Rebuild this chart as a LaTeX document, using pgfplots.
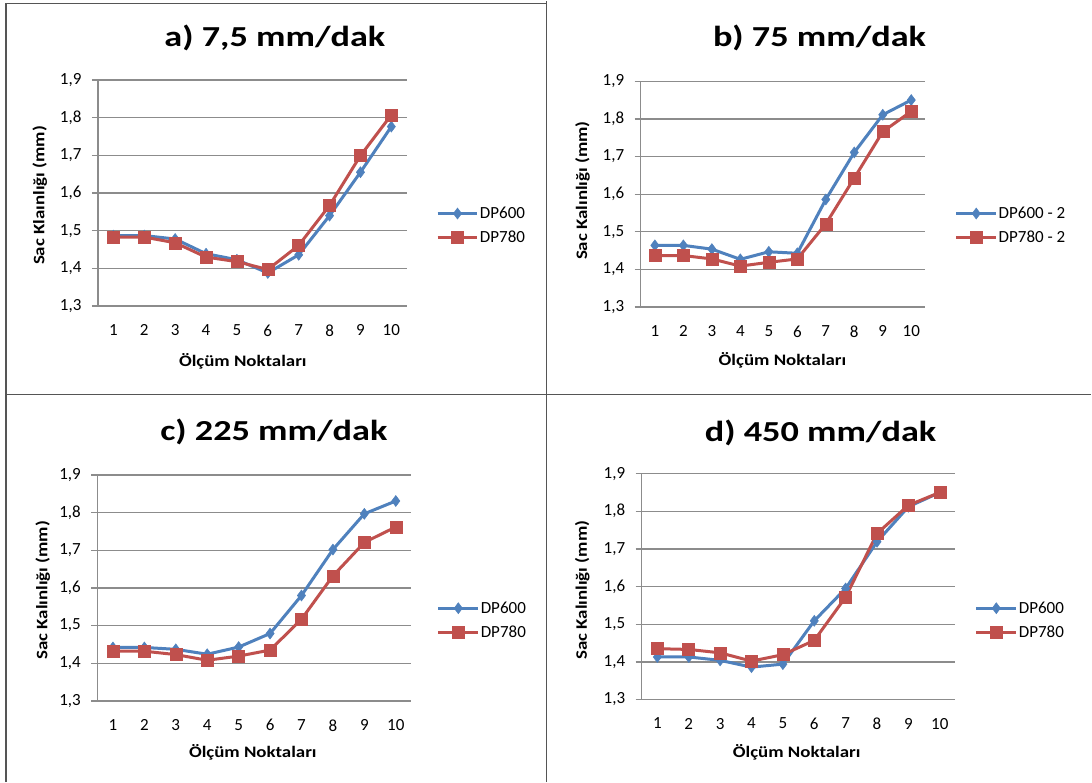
\documentclass[border=0pt]{standalone}
\usepackage{fontspec}
\setmainfont{Carlito}
\usepackage{graphicx}
\usepackage{pgfplots}
\pgfplotsset{compat=1.18}

\definecolor{exblue}{HTML}{4F81BD}
\definecolor{exred}{HTML}{C0504D}
\definecolor{gridgray}{HTML}{8C8C8C}
\definecolor{framegray}{HTML}{555555}

\newcommand{\xl}[1]{\scalebox{1.18}[1]{#1}}
\newcommand{\yl}[1]{\scalebox{1.18}[1]{#1}}
\newcommand{\tl}[1]{\scalebox{1.25}[1]{#1}}

\pgfplotsset{
  panel/.style={
    scale only axis,
    anchor=south west,
    xmin=0.5, xmax=10.5,
    ymin=1.3, ymax=1.9,
    xtick={1,...,10},
    ytick={1.3,1.4,...,1.9},
    axis lines*=left,
    axis line style={gridgray, line width=1.3pt},
    ymajorgrids,
    major grid style={gridgray, line width=1.3pt},
    xtick style={draw=none},
    ytick style={gridgray, line width=1.3pt},
    tick align=outside,
    major tick length=6pt,
    /pgf/number format/assume math mode=true,
    /pgf/number format/use comma,
    /pgf/number format/fixed,
    /pgf/number format/precision=1,
    yticklabel style={/pgf/number format/fixed zerofill, xshift=-7pt},
    tick label style={font=\fontsize{17}{20}\selectfont},
    xticklabel style={yshift=-9pt},
    label style={font=\bfseries\fontsize{16}{19}\selectfont},
    title style={font=\bfseries\fontsize{29}{34}\selectfont, anchor=center},
    legend style={draw=none, fill=none, inner sep=0pt, anchor=west,
      font=\fontsize{17}{20}\selectfont, row sep=9pt,
      nodes={inner sep=1pt}},
    legend cell align=left,
    legend image code/.code={
      \draw[mark repeat=2,mark phase=2,##1] plot coordinates {(0pt,0pt)(20pt,0pt)(40pt,0pt)};},
  },
  sa/.style={exblue, line width=3pt, mark=diamond*, mark size=5.5pt,
    mark options={solid, fill=exblue, line width=0.5pt}},
  sb/.style={exred, line width=3pt, mark=square*, mark size=6pt,
    mark options={solid, fill=exred, line width=0.5pt}},
}

\begin{document}
\begin{tikzpicture}[x=1pt, y=1pt]
\path[fill=white] (0,0) rectangle (1092,782);
\draw[framegray, line width=1.2pt] (6,0) -- (6,779) -- (547,779);
\draw[framegray, line width=1.2pt] (547,0) -- (547,782);
\draw[framegray, line width=1.2pt] (6,388) -- (1092,388);

% a) 7,5 mm/dak
\begin{axis}[panel, at={(98pt,476.3pt)}, width=309pt, height=226.4pt,
  title={\tl{a) 7,5 mm/dak}}, title style={at={(0.573,1.16)}},
  xlabel={\xl{Ölçüm Noktaları}}, xlabel style={at={(0.469,-0.244)}, anchor=center},
  ylabel={\yl{Sac Klaınlığı (mm)}}, ylabel style={at={(-0.188,0.489)}, anchor=center},
  legend style={at={(1.094,0.356)}}]
\addplot[sa] coordinates {(1,1.487)(2,1.487)(3,1.478)(4,1.439)(5,1.423)(6,1.388)(7,1.436)(8,1.540)(9,1.655)(10,1.776)};
\addplot[sb] coordinates {(1,1.483)(2,1.483)(3,1.468)(4,1.430)(5,1.418)(6,1.397)(7,1.461)(8,1.567)(9,1.699)(10,1.807)};
\legend{DP600, DP780}
\end{axis}

% b) 75 mm/dak
\begin{axis}[panel, at={(641pt,475.3pt)}, width=285pt, height=226pt,
  title={\tl{b) 75 mm/dak}}, title style={at={(0.628,1.163)}},
  xlabel={\xl{Ölçüm Noktaları}}, xlabel style={at={(0.498,-0.236)}, anchor=center},
  ylabel={\yl{Sac Kalınlığı (mm)}}, ylabel style={at={(-0.204,0.516)}, anchor=center},
  legend style={at={(1.102,0.361)}}]
\addplot[sa] coordinates {(1,1.464)(2,1.464)(3,1.454)(4,1.427)(5,1.447)(6,1.443)(7,1.586)(8,1.711)(9,1.811)(10,1.850)};
\addplot[sb] coordinates {(1,1.437)(2,1.437)(3,1.428)(4,1.409)(5,1.419)(6,1.428)(7,1.521)(8,1.643)(9,1.766)(10,1.820)};
\legend{DP600 - 2, DP780 - 2}
\end{axis}

% c) 225 mm/dak
\begin{axis}[panel, at={(97.3pt,81.3pt)}, width=314.4pt, height=226pt,
  title={\tl{c) 225 mm/dak}}, title style={at={(0.562,1.163)}},
  xlabel={\xl{Ölçüm Noktaları}}, xlabel style={at={(0.495,-0.227)}, anchor=center},
  ylabel={\yl{Sac Kalınlığı (mm)}}, ylabel style={at={(-0.173,0.49)}, anchor=center},
  legend style={at={(1.080,0.357)}}]
\addplot[sa] coordinates {(1,1.442)(2,1.442)(3,1.437)(4,1.424)(5,1.443)(6,1.479)(7,1.580)(8,1.702)(9,1.797)(10,1.831)};
\addplot[sb] coordinates {(1,1.432)(2,1.432)(3,1.423)(4,1.408)(5,1.419)(6,1.435)(7,1.517)(8,1.632)(9,1.721)(10,1.762)};
\legend{DP600, DP780}
\end{axis}

% d) 450 mm/dak
\begin{axis}[panel, at={(642pt,82.7pt)}, width=314pt, height=226pt,
  title={\tl{d) 450 mm/dak}}, title style={at={(0.570,1.155)}},
  xlabel={\xl{Ölçüm Noktaları}}, xlabel style={at={(0.494,-0.233)}, anchor=center},
  ylabel={\yl{Sac Kalınlığı (mm)}}, ylabel style={at={(-0.189,0.484)}, anchor=center},
  legend style={at={(1.061,0.351)}}]
\addplot[sa] coordinates {(1,1.413)(2,1.413)(3,1.404)(4,1.386)(5,1.394)(6,1.509)(7,1.595)(8,1.719)(9,1.812)(10,1.850)};
\addplot[sb] coordinates {(1,1.435)(2,1.433)(3,1.424)(4,1.402)(5,1.419)(6,1.457)(7,1.572)(8,1.741)(9,1.816)(10,1.850)};
\legend{DP600, DP780}
\end{axis}
\end{tikzpicture}
\end{document}
